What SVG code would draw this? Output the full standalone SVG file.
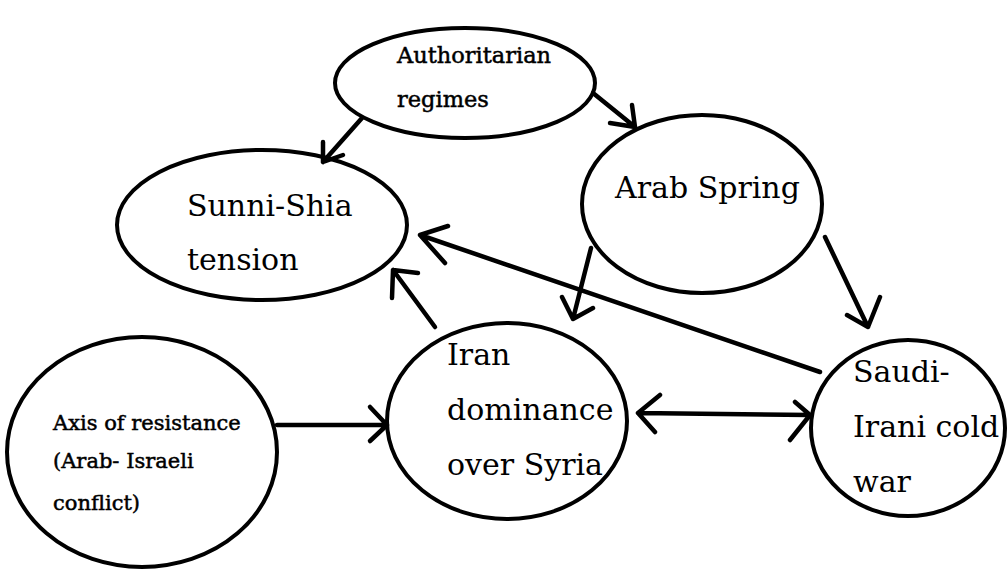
<svg xmlns="http://www.w3.org/2000/svg" width="1007" height="570" viewBox="0 0 1007 570">
<style>
.node ellipse{fill:#fff;stroke:#000;stroke-width:4}
text{font-family:"DejaVu Serif","Liberation Serif",serif;fill:#000}
.sm{font-size:21px;stroke:#000;stroke-width:0.5}
.au{font-size:22.5px}
.lg{font-size:30px}
.edge{fill:none;stroke:#000;stroke-width:4.5;stroke-linecap:round;stroke-linejoin:round}
</style>
<rect width="1007" height="570" fill="#fff"/>
<g id="node-authoritarian" class="node">
<ellipse cx="465" cy="83" rx="130" ry="55"/>
<text class="sm au" x="397" y="63">Authoritarian</text>
<text class="sm au" x="397" y="107">regimes</text>
</g>
<g id="node-sunni" class="node">
<ellipse cx="262" cy="225" rx="145" ry="75"/>
<text class="lg" x="187" y="216">Sunni-Shia</text>
<text class="lg" x="187" y="270">tension</text>
</g>
<g id="node-arab" class="node">
<ellipse cx="702" cy="204" rx="120" ry="89"/>
<text class="lg" x="615" y="198">Arab Spring</text>
</g>
<g id="node-axis" class="node">
<ellipse cx="142" cy="452" rx="135" ry="115"/>
<text class="sm" x="53" y="430">Axis of resistance</text>
<text class="sm" x="53" y="468">(Arab- Israeli</text>
<text class="sm" x="53" y="510">conflict)</text>
</g>
<g id="node-iran" class="node">
<ellipse cx="507" cy="421" rx="120" ry="98"/>
<text class="lg" x="447" y="365">Iran</text>
<text class="lg" x="447" y="420">dominance</text>
<text class="lg" x="447" y="475">over Syria</text>
</g>
<g id="node-saudi" class="node">
<ellipse cx="908" cy="428" rx="97" ry="88"/>
<text class="lg" x="853" y="382">Saudi-</text>
<text class="lg" x="853" y="437">Irani cold</text>
<text class="lg" x="853" y="492">war</text>
</g>
<g id="connectors" class="edge">
<path d="M362 118 L323 162 M323 142 L323 162 L343 155"/>
<path d="M593 93 L635 127 M632 105 L635 127 L610 123"/>
<path d="M591 248 L573 319 M562 297 L573 319 L593 308"/>
<path d="M825 237 L868 327 M880 297 L868 327 L847 315"/>
<path d="M820 372 L420 235 M448 226 L420 235 L445 263"/>
<path d="M435 327 L393 270 M418 273 L393 270 L392 298"/>
<path d="M277 425 L386 425 M370 407 L387 425 L370 441"/>
<path d="M638 413 L810 415 M660 395 L638 413 L655 432 M795 402 L810 415 L790 440"/>
</g>
</svg>
